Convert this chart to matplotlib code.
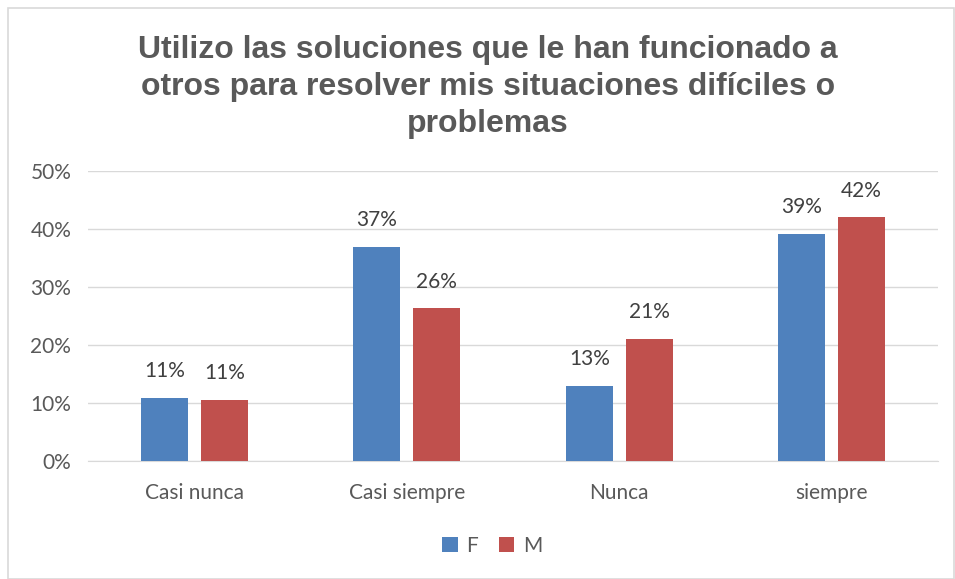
import matplotlib
matplotlib.use("Agg")
import matplotlib.pyplot as plt
import numpy as np
from matplotlib.patches import Rectangle

categories = ["Casi nunca", "Casi siempre", "Nunca", "siempre"]
f_values = [10.9, 36.9, 13.0, 39.1]
m_values = [10.5, 26.3, 21.0, 42.0]
f_labels = ["11%", "37%", "13%", "39%"]
m_labels = ["11%", "26%", "21%", "42%"]
yticks = [0, 10, 20, 30, 40, 50]
title = "Utilizo las soluciones que le han funcionado a\notros para resolver mis situaciones difíciles o\nproblemas"

txt = "#595959"
fs = 15
fig = plt.figure(figsize=(9.55, 5.79), dpi=100)
fig.patches.append(Rectangle((8/955, 0), 1 - 8/955 - 0.001, 1 - 8/579, transform=fig.transFigure,
                             fill=False, edgecolor="#D9D9D9", linewidth=1.2))
ax = fig.add_axes([88/955, (579-461)/579, 850/955, 290/579])

x = np.arange(len(categories))
w = 0.221
off = 0.141
bf = ax.bar(x - off, f_values, w, color="#4F81BD", label="F", zorder=3)
bm = ax.bar(x + off, m_values, w, color="#C0504D", label="M", zorder=3)
for rects, labs in ((bf, f_labels), (bm, m_labels)):
    for r, l in zip(rects, labs):
        ax.text(r.get_x() + r.get_width()/2, r.get_height() + 2.9, l, ha="center", va="bottom",
                fontsize=fs, color="#404040", family="Lato")

ax.set_xlim(-0.5, 3.5)
ax.set_ylim(0, 50)
ax.set_yticks(yticks)
ax.set_yticklabels([f"{t}%" for t in yticks], fontsize=fs, color=txt, family="Lato")
ax.set_xticks(x)
ax.set_xticklabels(categories, fontsize=fs, color=txt, family="Lato")
ax.tick_params(length=0, pad=12)
ax.tick_params(axis="x", pad=16)
ax.grid(axis="y", color="#D9D9D9", linewidth=1, zorder=0)
for s in ["top", "right", "left"]:
    ax.spines[s].set_visible(False)
ax.spines["bottom"].set_color("#D9D9D9")

fig.text(488/955, 1 - 87/579, title, ha="center", va="center", fontsize=23, fontweight="bold",
         color=txt, family="Liberation Sans", linespacing=1.3)

leg = fig.legend(handles=[bf, bm], labels=["F", "M"], loc="center", bbox_to_anchor=(492/955, 1 - 546/579),
                 ncol=2, frameon=False, handlelength=0.75, handleheight=0.75,
                 columnspacing=1.0, handletextpad=0.4, prop={"family": "Lato", "size": fs})
for t in leg.get_texts():
    t.set_color(txt)

fig.savefig("out.png", dpi=100)
